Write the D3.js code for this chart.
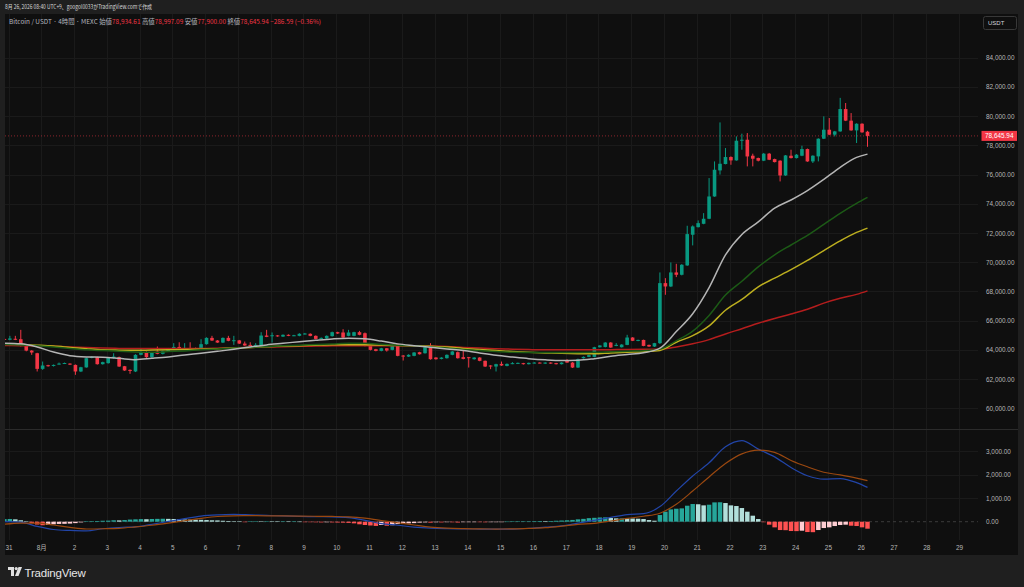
<!DOCTYPE html>
<html>
<head>
<meta charset="utf-8">
<script src="https://cdn.jsdelivr.net/npm/d3@7"></script>
<style>
  html, body { margin: 0; padding: 0; background: #1f1f1f; }
  svg { display: block; }
  text { font-family: "Liberation Sans", "Noto Sans CJK JP", sans-serif; }
</style>
</head>
<body>
<svg id="chart" width="1024" height="587"></svg>
<script>
//============================================================
// Data
//------------------------------------------------------------

// 4h candles, first one opens 2026-07-30 21:00
var candleOpen = [
  64750,64690,64760,64730,64340,63950,63770,62700,62950,62900,63010,63060,63060,62970,62520,62800,63450,63500,63020,63090,
  63450,63500,62880,62630,62520,63660,63840,63500,63890,63730,63910,64110,64200,64090,64130,64120,64050,64390,64820,64640,
  64500,64820,64620,64650,64430,64340,64300,64300,64980,64940,64990,64910,65030,64960,64960,65080,65100,64960,64750,64780,
  64940,65210,65190,64960,64960,65210,65140,64275,64045,63930,64110,64000,64390,63610,63540,63590,63840,63770,64180,63475,
  63380,63430,63660,63840,63500,63500,63360,63475,63250,62930,62860,63040,62900,63040,63060,63090,63020,63090,63130,63060,
  63130,63090,63020,63270,63130,62790,63430,63520,63520,64180,64200,64500,64270,64180,64340,64845,64620,64680,64340,64230,
  64459,68569,68340,69300,69140,69780,71880,72400,72630,72975,74500,76285,76720,77200,76970,78317,78385,77290,77130,76950,
  77430,77060,76950,75940,77290,77130,77290,77745,76900,77245,78455,79070,78730,78955,80485,79690,79025,79480,78934.61
];
var candleHigh = [
  64780,64960,64960,65370,64380,63980,63800,63200,62980,63000,63130,63130,63080,63000,62840,63470,63560,63540,63190,63500,
  63770,63540,62900,62660,63700,64050,63900,63860,64230,63950,64130,64460,64520,64460,64520,64160,64730,64860,64960,64670,
  64850,64960,64960,64680,64570,64520,64460,65210,65370,65190,65010,65060,65060,65030,65140,65160,65130,64990,64850,64990,
  65250,65240,65415,65370,65240,65300,65190,64300,64070,64140,64130,64370,64420,63650,63700,63850,63870,64210,64460,63500,
  63500,63690,63920,63890,63930,63520,63500,63500,63270,62950,63050,63200,63070,63160,63130,63110,63130,63160,63150,63150,
  63150,63110,63150,63360,63160,63400,63550,63670,64210,64320,64530,64530,64460,64390,65030,64870,64700,64700,64360,64480,
  69300,68910,69985,69890,69870,72495,72520,72860,73360,75760,76900,79570,77815,77250,78614,78800,78840,77430,77160,77480,
  77480,77090,76980,77340,77700,77400,77975,77780,77320,78480,79985,79870,78990,81250,80900,80210,79510,79510,78997.09
];
var candleLow = [
  64680,64660,64670,64230,63900,63660,62520,62630,62850,62860,62990,63030,62960,62290,62480,62780,63420,62990,62990,63060,
  63400,62830,62560,62360,62480,63630,63450,63450,63700,63690,63880,64090,64040,64050,64040,64020,64020,64360,64610,64480,
  64470,64590,64340,64400,64280,64280,64280,64280,64870,64500,64900,64880,64940,64940,64930,65050,64930,64730,64730,64750,
  64910,65090,64800,64930,64930,65000,64240,63960,63900,63900,63880,63970,63560,63270,63510,63560,63680,63740,63330,63330,
  63350,63400,63630,63400,63350,62790,63330,63220,62830,62680,62520,62900,62870,63020,63040,62990,63000,63070,63070,63040,
  63040,63000,63000,63110,62760,62760,63400,63500,63490,64160,64170,64140,64250,64160,64320,64600,64590,64250,64200,64200,
  64400,67770,68300,68980,69100,69750,71150,72380,72600,72950,74480,76000,76700,76670,76950,77700,76560,76560,76900,76920,
  76990,76830,75530,75910,77100,77100,77260,76870,76790,76900,78430,78700,78610,78930,79660,79000,78160,78860,77900
];
var candleClose = [
  64700,64780,64690,64340,63950,63820,62700,62930,62880,62970,63060,63100,62990,62520,62810,63430,63520,63020,63160,63470,
  63540,62860,62590,62560,63660,63840,63500,63820,63730,63910,64090,64200,64070,64130,64070,64050,64390,64820,64640,64500,
  64820,64620,64660,64430,64300,64300,64340,64980,64890,65000,64930,65030,64960,65000,65100,65120,64960,64750,64820,64960,
  65210,65120,64845,65190,65210,65030,64275,64000,63930,64110,63955,64340,63590,63540,63660,63820,63700,64180,63360,63360,
  63470,63660,63890,63430,63380,63430,63475,63250,62860,62860,63020,62930,63040,63090,63110,63020,63110,63130,63090,63130,
  63060,63020,63130,63130,62790,63360,63520,63640,64180,64300,64500,64160,64340,64360,64845,64620,64680,64270,64230,64460,
  68569,68340,69300,69140,69825,71925,72450,72675,72975,74500,76330,76740,77200,76970,78317,78385,77240,77085,76950,77430,
  77015,76855,75940,77310,77130,77360,77745,76900,77290,78455,79070,78730,78955,80485,79690,79025,79480,78890,78645.94
];

// moving averages, read at every 3rd candle plus the last one
var maGrey = [
  64460,64420,64200,63850,63600,63520,63500,63420,63330,63420,63520,63650,63770,63900,64040,64200,64340,64450,64560,64660,
  64750,64800,64760,64600,64410,64290,64180,64060,63960,63790,63630,63510,63400,63320,63275,63290,63400,63560,63680,63800,
  64115,65250,66470,68260,70500,71900,72760,73700,74260,74900,75670,76500,77180,77400
];
var maGreen = [
  64370,64340,64280,64200,64100,64000,63950,63900,63850,63830,63880,63930,64000,64060,64120,64170,64220,64280,64320,64370,
  64410,64450,64450,64380,64320,64290,64220,64120,64020,63950,63880,63830,63820,63820,63820,63820,63830,63870,63910,63945,
  64050,64620,65280,66360,67750,68700,69680,70510,71180,71830,72590,73350,74030,74435
];
var maYellow = [
  64410,64370,64320,64260,64170,64080,64000,63980,63970,63990,64000,64020,64046,64080,64130,64170,64220,64260,64290,64320,
  64345,64350,64350,64330,64300,64280,64250,64190,64100,64020,63950,63890,63830,63790,63770,63740,63730,63790,63840,63875,
  63960,64520,64970,65640,66710,67450,68320,68910,69490,70120,70800,71460,72040,72335
];
var maRed = [
  64300,64290,64270,64240,64200,64160,64120,64100,64090,64090,64090,64090,64090,64110,64140,64170,64190,64220,64240,64260,
  64275,64280,64280,64280,64275,64275,64260,64230,64170,64120,64080,64050,64020,64000,64000,64000,64000,64010,64030,64040,
  64050,64200,64420,64700,65090,65450,65820,66150,66450,66780,67200,67530,67800,68040
];

// MACD, same sampling as the averages
var macdLine = [
  0,-20,-200,-330,-370,-390,-300,-245,-220,-110,10,130,240,290,310,290,265,245,225,212,
  205,170,60,-80,-150,-230,-275,-295,-305,-311,-311,-311,-280,-230,-180,-60,60,180,300,340,
  640,1300,1940,2500,3180,3440,3080,2750,2300,1950,1805,1830,1660,1457
];
var signalLine = [
  -110,-60,-60,-140,-240,-310,-300,-280,-220,-150,-60,40,140,220,250,255,250,245,238,230,
  222,205,150,50,-45,-140,-230,-275,-295,-305,-311,-305,-285,-255,-190,-110,-70,30,140,230,
  360,740,1300,1900,2470,2880,3040,2940,2600,2330,2100,1985,1850,1740
];
// histogram, one bar per candle
var macdHist = [
  110,115,100,60,20,-60,-120,-150,-140,-110,-95,-90,-80,-60,-30,20,25,30,40,45,
  60,55,70,90,100,110,105,115,120,125,120,115,100,95,90,85,80,70,60,55,
  40,30,20,10,-5,15,20,15,20,15,10,15,10,15,5,-5,-20,-25,-30,-25,
  -30,-35,-40,-50,-70,-110,-140,-160,-180,-140,-170,-150,-100,-80,-70,-60,-40,-30,-40,-25,
  -30,-20,-25,-35,-20,-15,-10,-15,-25,-20,-10,-5,5,10,15,20,20,25,30,25,
  30,40,50,60,75,100,120,150,165,180,184,156,141,141,140,135,127,113,70,42,
  283,424,523,551,566,679,750,740,693,721,820,825,792,693,665,580,424,255,113,-10,
  -127,-240,-354,-360,-396,-400,-382,-439,-445,-354,-269,-240,-184,-141,-127,-170,-184,-240,-297
];

var priceTicks = [60000,62000,64000,66000,68000,70000,72000,74000,76000,78000,80000,82000,84000];
var macdTicks = [0,1000,2000,3000];

//============================================================
// Layout
//------------------------------------------------------------

var W = 1024, H = 587,
    panel = {left: 5, right: 1018, top: 14, bottom: 555},
    plotRight = 978,
    pricePane = {top: 14, bottom: 429},
    macdPane = {top: 430, bottom: 540},
    axisX = 986;

var upColor = '#089981', downColor = '#f23645';

var svg = d3.select('#chart');

var t0 = new Date(2026, 6, 30, 21),
    step = 4 * 3600 * 1000,
    timeOf = function (i) { return new Date(t0.getTime() + i * step); };

var maIdx = d3.range(0, 157, 3).concat([158]);

var x = d3.scaleTime()
    .domain([new Date(2026, 6, 31), new Date(2026, 7, 29)])
    .range([8.5, 959]);
var yPrice = d3.scaleLinear().domain([60000, 84000]).range([408.3, 57.7]);
var yMacd = d3.scaleLinear().domain([0, 3000]).range([521.7, 451]);

var candleStep = x(timeOf(1)) - x(timeOf(0)),
    bodyW = 3.6;

//------------------------------------------------------------
// Backgrounds, clip paths
//------------------------------------------------------------

svg.append('rect').attr('width', W).attr('height', H).attr('fill', '#1f1f1f');
svg.append('rect')
    .attr('x', panel.left).attr('y', panel.top)
    .attr('width', panel.right - panel.left).attr('height', panel.bottom - panel.top)
    .attr('fill', '#0f0f0f');

var defs = svg.append('defs');
defs.append('clipPath').attr('id', 'clipPrice').append('rect')
    .attr('x', panel.left).attr('y', pricePane.top)
    .attr('width', plotRight - panel.left).attr('height', pricePane.bottom - pricePane.top);
defs.append('clipPath').attr('id', 'clipMacd').append('rect')
    .attr('x', panel.left).attr('y', macdPane.top)
    .attr('width', plotRight - panel.left).attr('height', macdPane.bottom - macdPane.top);

//------------------------------------------------------------
// Grid
//------------------------------------------------------------

var days = d3.timeDay.range(new Date(2026, 6, 31), new Date(2026, 7, 30));
var grid = svg.append('g').attr('stroke', '#1a1a1a').attr('stroke-width', 1);

grid.selectAll('line.v').data(days).enter().append('line')
    .attr('class', 'v')
    .attr('x1', function (d) { return Math.round(x(d)) + 0.5; })
    .attr('x2', function (d) { return Math.round(x(d)) + 0.5; })
    .attr('y1', pricePane.top).attr('y2', macdPane.bottom);

grid.selectAll('line.hp').data(priceTicks).enter().append('line')
    .attr('class', 'hp')
    .attr('x1', panel.left).attr('x2', plotRight)
    .attr('y1', function (d) { return Math.round(yPrice(d)) + 0.5; })
    .attr('y2', function (d) { return Math.round(yPrice(d)) + 0.5; });

grid.selectAll('line.hm').data(macdTicks.slice(1)).enter().append('line')
    .attr('class', 'hm')
    .attr('x1', panel.left).attr('x2', plotRight)
    .attr('y1', function (d) { return Math.round(yMacd(d)) + 0.5; })
    .attr('y2', function (d) { return Math.round(yMacd(d)) + 0.5; });

// pane separator
svg.append('line')
    .attr('x1', panel.left).attr('x2', panel.right)
    .attr('y1', 429.5).attr('y2', 429.5)
    .attr('stroke', '#2b2b2b');

//------------------------------------------------------------
// Price pane: candles + averages
//------------------------------------------------------------

var candles = d3.range(candleOpen.length).map(function (i) {
  return {t: timeOf(i), o: candleOpen[i], h: candleHigh[i], l: candleLow[i], c: candleClose[i]};
});

var gPrice = svg.append('g').attr('clip-path', 'url(#clipPrice)');

// last price line (dotted)
var lastClose = candleClose[candleClose.length - 1];
gPrice.append('line')
    .attr('x1', panel.left).attr('x2', plotRight)
    .attr('y1', yPrice(lastClose)).attr('y2', yPrice(lastClose))
    .attr('stroke', '#f23645').attr('stroke-opacity', 0.55)
    .attr('stroke-dasharray', '1,2');

var candle = gPrice.selectAll('g.candle').data(candles).enter().append('g')
    .attr('class', 'candle');

candle.append('line')
    .attr('x1', function (d) { return x(d.t); })
    .attr('x2', function (d) { return x(d.t); })
    .attr('y1', function (d) { return yPrice(d.h); })
    .attr('y2', function (d) { return yPrice(d.l); })
    .attr('stroke', function (d) { return d.c >= d.o ? upColor : downColor; })
    .attr('stroke-width', 1);

candle.append('rect')
    .attr('x', function (d) { return x(d.t) - bodyW / 2; })
    .attr('y', function (d) { return yPrice(Math.max(d.o, d.c)); })
    .attr('width', bodyW)
    .attr('height', function (d) { return Math.max(1, Math.abs(yPrice(d.o) - yPrice(d.c))); })
    .attr('fill', function (d) { return d.c >= d.o ? upColor : downColor; });

var maSeries = [
  {values: maRed, color: '#b51d1d'},
  {values: maYellow, color: '#bcae1f'},
  {values: maGreen, color: '#1c5a16'},
  {values: maGrey, color: '#b5b5b5'}
];

var maLine = d3.line()
    .x(function (d) { return x(timeOf(d[0])); })
    .y(function (d) { return yPrice(d[1]); })
    .curve(d3.curveMonotoneX);

gPrice.selectAll('path.ma').data(maSeries).enter().append('path')
    .attr('class', 'ma')
    .attr('fill', 'none')
    .attr('stroke', function (d) { return d.color; })
    .attr('stroke-width', 1.5)
    .attr('d', function (d) {
      return maLine(maIdx.map(function (k, j) { return [k, d.values[j]]; }));
    });

//------------------------------------------------------------
// MACD pane
//------------------------------------------------------------

var gMacd = svg.append('g').attr('clip-path', 'url(#clipMacd)');

gMacd.append('line')
    .attr('x1', panel.left).attr('x2', plotRight)
    .attr('y1', yMacd(0)).attr('y2', yMacd(0))
    .attr('stroke', '#3c3c3c').attr('stroke-dasharray', '3,3');

var histColor = function (v, i) {
  var prev = i > 0 ? macdHist[i - 1] : v;
  if (v >= 0) { return v >= prev ? '#26a69a' : '#b2dfdb'; }
  return v < prev ? '#ff5252' : '#ffcdd2';
};
var histW = candleStep * 0.82;

gMacd.selectAll('rect.hist').data(macdHist).enter().append('rect')
    .attr('class', 'hist')
    .attr('x', function (d, i) { return x(timeOf(i)) - histW / 2; })
    .attr('y', function (d) { return yMacd(Math.max(0, d)); })
    .attr('width', histW)
    .attr('height', function (d) { return Math.max(0.5, Math.abs(yMacd(d) - yMacd(0))); })
    .attr('fill', histColor);

var macdPath = d3.line()
    .x(function (d) { return x(timeOf(d[0])); })
    .y(function (d) { return yMacd(d[1]); })
    .curve(d3.curveMonotoneX);

[{values: macdLine, color: '#2245a8'}, {values: signalLine, color: '#9a4810'}].forEach(function (s) {
  gMacd.append('path')
      .attr('fill', 'none')
      .attr('stroke', s.color)
      .attr('stroke-width', 1.2)
      .attr('d', macdPath(maIdx.map(function (k, j) { return [k, s.values[j]]; })));
});

//------------------------------------------------------------
// Axes
//------------------------------------------------------------

var fmt = d3.format(',.2f');

var priceAxis = svg.append('g')
    .attr('transform', 'translate(' + axisX + ',0)')
    .call(d3.axisRight(yPrice).tickValues(priceTicks).tickFormat(fmt).tickSize(0).tickPadding(0));
var macdAxis = svg.append('g')
    .attr('transform', 'translate(' + axisX + ',0)')
    .call(d3.axisRight(yMacd).tickValues(macdTicks).tickFormat(fmt).tickSize(0).tickPadding(0));

[priceAxis, macdAxis].forEach(function (a) {
  a.select('.domain').remove();
  a.selectAll('text')
      .attr('fill', '#b7b7b7')
      .style('font-size', '6.4px')
      .style('font-family', '"Liberation Sans", sans-serif');
});

var timeAxis = svg.append('g')
    .attr('transform', 'translate(0,' + 545 + ')')
    .call(d3.axisBottom(x).tickValues(days).tickSize(0).tickPadding(0)
      .tickFormat(function (d) { return d.getDate() === 1 ? '8月' : String(d.getDate()); }));
timeAxis.select('.domain').remove();
timeAxis.selectAll('text')
    .attr('fill', '#b7b7b7')
    .style('font-size', '6.4px')
    .style('font-family', '"Liberation Sans", "Noto Sans CJK JP", sans-serif');

// last price tag
var tagY = yPrice(lastClose);
svg.append('rect')
    .attr('x', 981.5).attr('y', tagY - 5).attr('width', 35.5).attr('height', 10)
    .attr('fill', '#f23645');
svg.append('text')
    .attr('x', 985).attr('y', tagY + 2.3)
    .attr('fill', '#ffffff')
    .style('font-size', '6.4px')
    .text(fmt(lastClose));

// currency box
svg.append('rect')
    .attr('x', 983.5).attr('y', 16.5).attr('width', 33).attr('height', 13).attr('rx', 2)
    .attr('fill', 'none').attr('stroke', '#383838');
svg.append('text')
    .attr('x', 988).attr('y', 25.3)
    .attr('fill', '#d1d4dc')
    .style('font-size', '6px')
    .text('USDT');

//------------------------------------------------------------
// Header texts
//------------------------------------------------------------

svg.append('text')
    .attr('x', 5).attr('y', 9)
    .attr('fill', '#d6d6d6')
    .attr('textLength', 147)
    .attr('lengthAdjust', 'spacingAndGlyphs')
    .style('font-size', '6.2px')
    .style('font-family', '"Noto Sans CJK JP", sans-serif')
    .text('8月 26, 2026 08:40 UTC+9、googol0033がTradingView.comで作成');

var legend = svg.append('text')
    .attr('x', 9).attr('y', 23.5)
    .attr('textLength', 312)
    .attr('lengthAdjust', 'spacingAndGlyphs')
    .style('font-size', '6.4px')
    .style('font-family', '"Noto Sans CJK JP", sans-serif');

var legendParts = [
  ['Bitcoin / USDT · 4時間 · MEXC  始値', '#b2b5be'], [fmt(candleOpen[158]), '#f23645'],
  [' 高値', '#b2b5be'], [fmt(candleHigh[158]), '#f23645'],
  [' 安値', '#b2b5be'], [fmt(candleLow[158]), '#f23645'],
  [' 終値', '#b2b5be'], [fmt(lastClose), '#f23645'],
  ['  −286.59 (−0.36%)', '#f23645']
];
legendParts.forEach(function (p) {
  legend.append('tspan').attr('fill', p[1]).text(p[0]);
});

//------------------------------------------------------------
// Footer logo
//------------------------------------------------------------

var logo = svg.append('g').attr('transform', 'translate(8,567)').attr('fill', '#e0e0e0');
logo.append('path').attr('d', 'M0,0 H6 V9 H3 V3 H0 Z');
logo.append('circle').attr('cx', 8.2).attr('cy', 1.6).attr('r', 1.6);
logo.append('path').attr('d', 'M10.5,0 H14 L10.5,9 H7 Z');

svg.append('text')
    .attr('x', 24.5).attr('y', 576.5)
    .attr('fill', '#e6e6e6')
    .style('font-size', '11.5px')
    .style('font-family', '"Liberation Sans", sans-serif')
    .style('letter-spacing', '-0.2px')
    .text('TradingView');
</script>
</body>
</html>
